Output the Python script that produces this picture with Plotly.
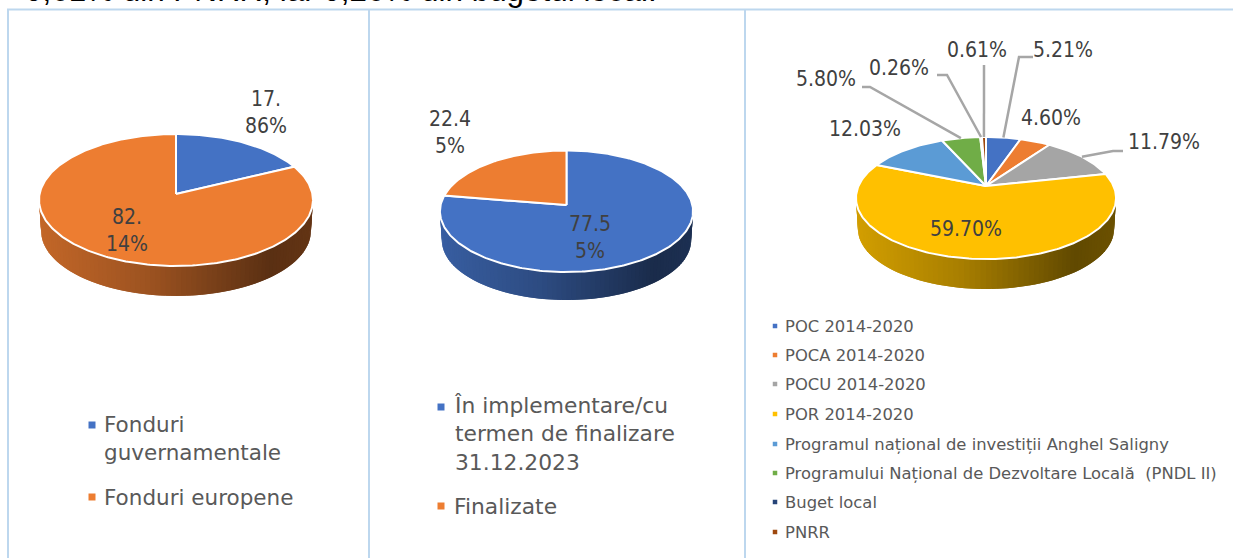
import numpy as np
import plotly.graph_objects as go

# ---- data ----
p1_names = ["Fonduri guvernamentale", "Fonduri europene"]
p1_values = [17.86, 82.14]
p1_labels = ["17.<br>86%", "82.<br>14%"]

p2_names = ["În implementare/cu termen de finalizare 31.12.2023", "Finalizate"]
p2_values = [77.55, 22.45]
p2_labels = ["77.5<br>5%", "22.4<br>5%"]

p3_names = ["POC 2014-2020", "POCA 2014-2020", "POCU 2014-2020", "POR 2014-2020",
            "Programul național de investiții Anghel Saligny",
            "Programului Național de Dezvoltare Locală  (PNDL II)", "Buget local", "PNRR"]
p3_values = [5.21, 4.60, 11.79, 59.70, 12.03, 5.80, 0.26, 0.61]
p3_labels = ["5.21%", "4.60%", "11.79%", "59.70%", "12.03%", "5.80%", "0.26%", "0.61%"]

# ---- styles ----
C2 = ["#4472C4", "#ED7D31"]
C3 = ["#4472C4", "#ED7D31", "#A5A5A5", "#FFC000", "#5B9BD5", "#70AD47", "#264478", "#9E480E"]
GRID = "#BDD7EE"
LABEL = "#404040"
LEG = "#595959"
FONT = "DejaVu Sans Condensed, DejaVu Sans, sans-serif"
FONT_LEG = "DejaVu Sans, sans-serif"

fig = go.Figure()


def rgb(h):
    return np.array([int(h[i:i + 2], 16) for i in (1, 3, 5)], float)


def rim(a, g, scale=1.0, drop=0.0):
    """Perspective projection of a point on the pie rim (angle clockwise from 12 o'clock)."""
    w = 1 + g["k"] * np.cos(a)
    return (g["cx"] + scale * g["sx"] * np.sin(a) / w,
            g["cy"] - scale * g["sy"] * np.cos(a) / w + drop)


def pie3d(values, names, colors, g):
    edges = np.cumsum([0] + list(values)) / sum(values) * 2 * np.pi
    # side wall: strips painted left to right, each overlapping the next so no seams show
    aa = np.linspace(np.radians(290), np.radians(70), 111)
    step = aa[0] - aa[1]
    for a0, a1 in zip(aa[:-1], aa[1:]):
        mid = (a0 + a1) / 2
        idx = min(int(np.searchsorted(edges, mid, side="right")) - 1, len(values) - 1)
        seg = np.linspace(a0, max(a1 - step, np.radians(70)), 5)
        xt, yt = rim(seg, g)
        xb, yb = rim(seg, g, 0.985, g["d"])
        frac = (rim(mid, g)[0] - (g["cx"] - g["sx"])) / (2 * g["sx"])
        f = np.interp(frac, [0, 0.4, 0.85, 1], [0.82, 0.66, 0.38, 0.42])
        c = rgb(colors[idx]) * f
        col = f"rgb({c[0]:.0f},{c[1]:.0f},{c[2]:.0f})"
        fig.add_trace(go.Scatter(x=np.r_[xt, xb[::-1]], y=np.r_[yt, yb[::-1]], mode="lines",
                                 fill="toself", fillcolor=col, line=dict(color=col, width=0),
                                 hoverinfo="skip", showlegend=False))
    # top slices
    for v0, v1, n, c, val in zip(edges[:-1], edges[1:], names, colors, values):
        t = np.linspace(v0, v1, max(int((v1 - v0) * 60), 4))
        xr, yr = rim(t, g)
        fig.add_trace(go.Scatter(x=np.r_[g["cx"], xr, g["cx"]], y=np.r_[g["cy"], yr, g["cy"]],
                                 mode="lines", fill="toself", fillcolor=c,
                                 line=dict(color="white", width=2),
                                 name=n, text=f"{n}: {val:.2f}%", hoverinfo="text", showlegend=False))
    return edges


G1 = dict(cx=176.0, cy=194.0, sx=136.4, sy=65.45, k=0.0909, d=31)
G2 = dict(cx=566.5, cy=205.0, sx=125.9, sy=60.1, k=0.103, d=29)
G3 = dict(cx=986.0, cy=186.0, sx=127.5, sy=58.7, k=0.197, d=31)

pie3d(p1_values, p1_names, C2, G1)
pie3d(p2_values, p2_names, C2, G2)
e3 = pie3d(p3_values, p3_names, C3, G3)


def note(x, y, text, size, color=LABEL, anchor="center", family=FONT, vanchor="middle"):
    fig.add_annotation(x=x, y=y, text=text, showarrow=False, xanchor=anchor, yanchor=vanchor,
                       align="center" if anchor == "center" else "left",
                       font=dict(size=size, color=color, family=family),
                       borderpad=0, xref="x", yref="y")


# data labels
LS = 21
note(266, 112, p1_labels[0], LS)
note(127, 230, p1_labels[1], LS)
note(590, 237, p2_labels[0], LS)
note(450, 132, p2_labels[1], LS)
note(1063, 50, p3_labels[0], LS)
note(1051, 118, p3_labels[1], LS)
note(1164, 142, p3_labels[2], LS)
note(966, 229, p3_labels[3], LS)
note(865, 129, p3_labels[4], LS)
note(826, 79, p3_labels[5], LS)
note(899, 68, p3_labels[6], LS)
note(977, 50, p3_labels[7], LS)

# leader lines: start on the slice rim, then bend to the label
mid3 = (e3[:-1] + e3[1:]) / 2
leaders = {0: [(1019, 57), (1033, 57)], 2: [(1113, 151), (1123, 151)], 5: [(870, 87), (862, 87)],
           6: [(947, 75), (937, 75)], 7: [(984, 65)]}
for i, pts in leaders.items():
    x0, y0 = rim(mid3[i], G3)
    fig.add_trace(go.Scatter(x=[x0] + [p[0] for p in pts], y=[y0] + [p[1] for p in pts], mode="lines",
                             line=dict(color="#A6A6A6", width=2.5), hoverinfo="skip", showlegend=False))


def legend(marks, entries, size, msize):
    xs, ys, cs = zip(*marks)
    fig.add_trace(go.Scatter(x=xs, y=ys, mode="markers", hoverinfo="skip", showlegend=False,
                             marker=dict(symbol="square", size=msize, color=list(cs), line=dict(width=0))))
    for x, y, t in entries:
        note(x, y, t, size, LEG, "left", FONT_LEG)


legend([(92, 425, C2[0]), (92, 497, C2[1])],
       [(103, 438.5, "Fonduri<br>guvernamentale"), (103, 497, p1_names[1])], 21.5, 7)
legend([(441, 407, C2[0]), (441, 506, C2[1])],
       [(453, 434, "În implementare/cu<br>termen de finalizare<br>31.12.2023"), (453, 506, p2_names[1])], 21.8, 7)
ly = [326, 355, 384, 414, 444, 473, 502, 532]
legend([(775, y, c) for y, c in zip(ly, C3)], [(784, y, n) for y, n in zip(ly, p3_names)], 16.4, 4.5)

# cropped paragraph line above the table
note(24, 9.5, "0,61% din PNRR, iar 0,26% din bugetul local.", 31.4, "#000000", "left",
     "Liberation Sans", "bottom")

# table rules
for x in (8, 369, 745):
    fig.add_shape(type="line", x0=x, x1=x, y0=9, y1=558, line=dict(color=GRID, width=2), layer="below")
fig.add_shape(type="line", x0=7, x1=1233, y0=9.5, y1=9.5, line=dict(color=GRID, width=2), layer="below")

fig.update_layout(width=1233, height=558, margin=dict(l=0, r=0, t=0, b=0), showlegend=False,
                  paper_bgcolor="white", plot_bgcolor="white",
                  xaxis=dict(range=[0, 1233], visible=False, fixedrange=True),
                  yaxis=dict(range=[558, 0], visible=False, fixedrange=True))
fig.write_html("out.html", config=dict(displayModeBar=False),
               post_script="document.body.style.margin='0';document.body.style.overflow='hidden';")
